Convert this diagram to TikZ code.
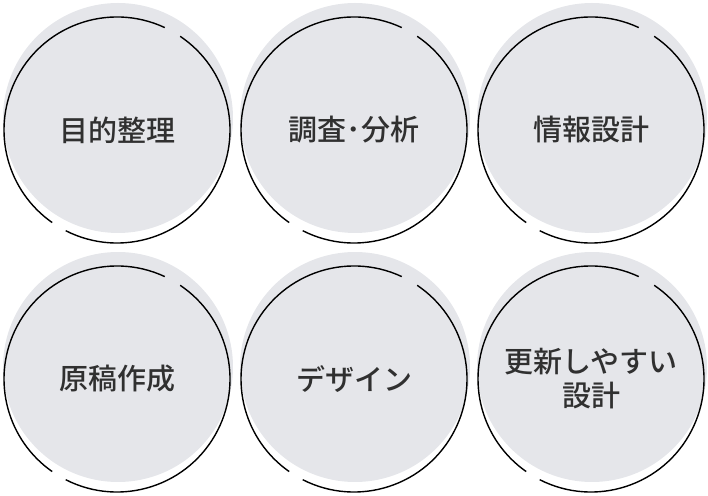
\documentclass[tikz,border=0pt]{standalone}
\usepackage{fontspec}
\setmainfont{Noto Sans CJK JP Medium}
\definecolor{discgray}{HTML}{E5E6EA}
\definecolor{inkgray}{HTML}{303030}
\tikzset{
  disc/.style={circle, fill=discgray, minimum size=230pt, inner sep=0pt},
  ring/.style={line width=1.4pt, black},
  caption/.style={text=inkgray, align=center, font=\fontsize{29}{34}\selectfont}
}

\begin{document}
\begin{tikzpicture}[x=1pt, y=1pt]
	\useasboundingbox (0,0) rectangle (708,495);
	\foreach \n/\cx/\cy/\txt in {1/117/365/目的整理, 2/354/365/調査･分析, 3/591/365/情報設計,
		4/117/116/原稿作成, 5/354/116/デザイン, 6/591/116/{更新しやすい\\設計}}{
		\coordinate (c\n) at (\cx,\cy);
		\node[disc] (d\n) at (\cx+1,\cy+12) {};
		\draw[ring] ([shift={(65:113pt)}]c\n) arc[start angle=65, end angle=235, radius=113pt];
		\draw[ring] ([shift={(243:113pt)}]c\n) arc[start angle=243, end angle=416, radius=113pt];
		\node[caption] (t\n) at (c\n) {\txt};
	}
\end{tikzpicture}
\end{document}
